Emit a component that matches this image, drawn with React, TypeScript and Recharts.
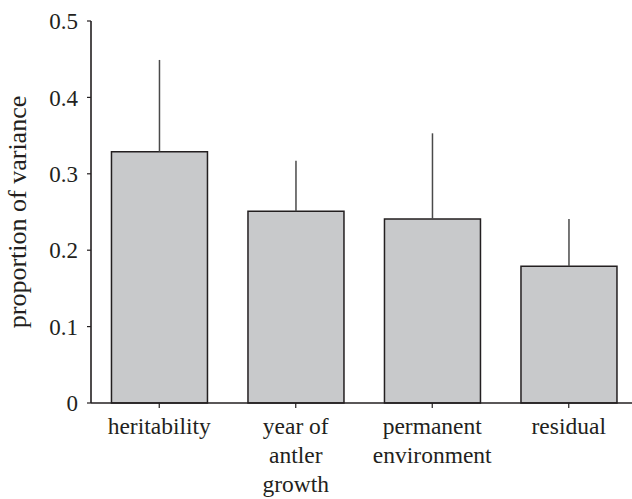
import { BarChart, Bar, XAxis, YAxis, ErrorBar, Label } from 'recharts';

// variance components
const components = ['heritability', 'year of antler growth', 'permanent environment', 'residual'];
const componentLines = [['heritability'], ['year of', 'antler', 'growth'], ['permanent', 'environment'], ['residual']];
const proportions = [0.329, 0.251, 0.241, 0.179];
const upperErrors = [0.12, 0.066, 0.112, 0.062];
const yTicks = [0, 0.1, 0.2, 0.3, 0.4, 0.5];

const FONT = '"Liberation Serif", "Times New Roman", serif';
const INK = '#231f20';

const data = components.map((name, i) => ({
  name,
  value: proportions[i],
  err: [0, upperErrors[i]],
}));

// Multi-line category label under each bar
function CategoryTick({ x, y, index }: any) {
  const lines = componentLines[index] || [];
  return (
    <text x={x} y={y} textAnchor="middle" fill={INK} fontFamily={FONT} fontSize={23.5}>
      {lines.map((line, i) => (
        <tspan key={i} x={x} dy={i === 0 ? 24 : 29}>
          {line}
        </tspan>
      ))}
    </text>
  );
}

export default function App() {
  return (
    <div style={{ position: 'absolute', left: 0, top: 0, background: '#fff' }}>
      <BarChart
        width={640}
        height={499}
        data={data}
        margin={{ top: 21, right: 3, bottom: 0, left: 0 }}
        barCategoryGap="15%"
      >
        <XAxis
          dataKey="name"
          height={96}
          interval={0}
          tick={<CategoryTick />}
          tickSize={5}
          tickMargin={2}
          axisLine={{ stroke: INK, strokeWidth: 1.6 }}
          tickLine={{ stroke: INK, strokeWidth: 1.2 }}
        />
        <YAxis
          width={91}
          domain={[0, 0.5]}
          ticks={yTicks}
          interval={0}
          tickSize={4}
          tickMargin={9}
          axisLine={{ stroke: INK, strokeWidth: 1.6 }}
          tickLine={{ stroke: INK, strokeWidth: 1.2 }}
          tick={{ fill: INK, fontFamily: FONT, fontSize: 23 }}
        >
          <Label
            content={() => (
              <text
                transform="translate(26, 212) rotate(-90)"
                textAnchor="middle"
                fill={INK}
                fontFamily={FONT}
                fontSize={26}
              >
                proportion of variance
              </text>
            )}
          />
        </YAxis>
        <Bar dataKey="value" fill="#c8c9cb" stroke={INK} strokeWidth={1.5} isAnimationActive={false}>
          <ErrorBar dataKey="err" width={0} stroke="#4a4a4a" strokeWidth={1.5} direction="y" isAnimationActive={false} />
        </Bar>
      </BarChart>
    </div>
  );
}
